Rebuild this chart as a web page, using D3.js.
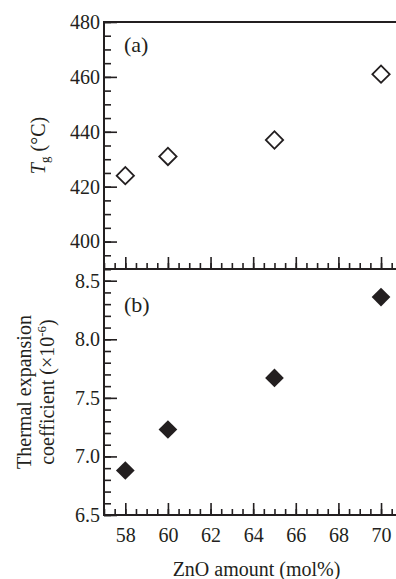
<!DOCTYPE html>
<html>
<head>
<meta charset="utf-8">
<script src="https://cdn.jsdelivr.net/npm/d3@7"></script>
<style>
  html, body { margin: 0; padding: 0; background: #fff; }
  svg { display: block; }
  text { font-family: "Liberation Serif", "Times New Roman", serif; fill: #231f20; }
</style>
</head>
<body>
<svg id="chart" width="396" height="579"></svg>
<script>
// ZnO content of the glasses (mol%)
const znoAmount = [58, 60, 65, 70];
// (a) glass transition temperature Tg (°C)
const tgValues = [424, 431, 437, 461];
// (b) thermal expansion coefficient (×10^-6)
const cteValues = [6.88, 7.23, 7.67, 8.36];

const xTicks = [58, 60, 62, 64, 66, 68, 70];
const tgTicks = [400, 420, 440, 460, 480];
const cteTicks = [6.5, 7.0, 7.5, 8.0, 8.5];

const W = 396, H = 579;
const ink = "#231f20";
const left = 104, right = W;
const topA = 22, mid = 269, bottomB = 515;

const svg = d3.select("#chart");

const x = d3.scaleLinear().domain([57, 71]).range([left, left + 14 * 21.31]);
const yA = d3.scaleLinear().domain([390, 480]).range([mid, topA]);
const yB = d3.scaleLinear().domain([6.5, 8.6]).range([bottomB, mid]);

function styleAxis(g) {
  g.selectAll(".domain").remove();
  g.selectAll("line").attr("stroke", ink).attr("stroke-width", 1.6);
  g.selectAll("text").attr("font-size", 20).attr("fill", ink)
    .attr("font-family", '"Liberation Serif", "Times New Roman", serif');
}

function range(a, b, step) {
  const out = [];
  for (let v = a; v <= b + 1e-9; v += step) out.push(+v.toFixed(4));
  return out;
}

// Bottom axis of a panel: ticks point up into the plot
function xAxisAt(yPos, withLabels) {
  svg.append("g").attr("transform", `translate(0,${yPos})`)
    .call(d3.axisBottom(x).tickValues(range(57, 71, 0.5)).tickSizeInner(-6).tickSizeOuter(0).tickFormat(""))
    .call(styleAxis);
  const major = svg.append("g").attr("transform", `translate(0,${yPos})`)
    .call(d3.axisBottom(x).tickValues(xTicks).tickSizeInner(-12).tickSizeOuter(0).tickPadding(13)
      .tickFormat(withLabels ? d3.format("d") : ""))
    .call(styleAxis);
  major.selectAll("text").attr("dy", "0.71em");
}

// Left axis of a panel: ticks point right into the plot
function yAxis(scale, minorVals, majorVals, fmt) {
  svg.append("g").attr("transform", `translate(${left},0)`)
    .call(d3.axisLeft(scale).tickValues(minorVals).tickSizeInner(-7).tickSizeOuter(0).tickFormat(""))
    .call(styleAxis);
  svg.append("g").attr("transform", `translate(${left},0)`)
    .call(d3.axisLeft(scale).tickValues(majorVals).tickSizeInner(-13).tickSizeOuter(0).tickPadding(4).tickFormat(fmt))
    .call(styleAxis);
}

yAxis(yA, range(390, 480, 5), tgTicks, d3.format("d"));
yAxis(yB, range(6.5, 8.6, 0.1), cteTicks, d3.format(".1f"));
xAxisAt(mid, false);
xAxisAt(bottomB, true);

// Frame lines: top, left, shared middle and bottom
const frame = svg.append("g").attr("stroke", ink).attr("stroke-width", 2).attr("fill", "none");
frame.append("line").attr("x1", left).attr("x2", right).attr("y1", topA).attr("y2", topA);
frame.append("line").attr("x1", left).attr("x2", left).attr("y1", topA - 1).attr("y2", bottomB + 1);
frame.append("line").attr("x1", left).attr("x2", right).attr("y1", mid).attr("y2", mid);
frame.append("line").attr("x1", left).attr("x2", right).attr("y1", bottomB).attr("y2", bottomB);

// Diamond markers (rotated squares)
const diamond = d3.symbol().type(d3.symbolSquare).size(150);

svg.append("g").selectAll("path").data(znoAmount.map((z, i) => [z, tgValues[i]]))
  .join("path")
  .attr("d", diamond)
  .attr("transform", d => `translate(${x(d[0])},${yA(d[1])}) rotate(45)`)
  .attr("fill", "#fff").attr("stroke", ink).attr("stroke-width", 1.8);

svg.append("g").selectAll("path").data(znoAmount.map((z, i) => [z, cteValues[i]]))
  .join("path")
  .attr("d", d3.symbol().type(d3.symbolSquare).size(175))
  .attr("transform", d => `translate(${x(d[0])},${yB(d[1])}) rotate(45)`)
  .attr("fill", ink).attr("stroke", "none");

// Panel tags
svg.append("text").attr("x", 124).attr("y", 52).attr("font-size", 22).text("(a)");
svg.append("text").attr("x", 124).attr("y", 312).attr("font-size", 22).text("(b)");

// Axis titles
const tgLabel = svg.append("text")
  .attr("transform", `translate(45,${(topA + mid) / 2}) rotate(-90)`)
  .attr("text-anchor", "middle").attr("font-size", 20);
tgLabel.append("tspan").attr("font-style", "italic").text("T");
tgLabel.append("tspan").attr("font-size", 13).attr("dy", 4).text("g");
tgLabel.append("tspan").attr("dy", -4).text(" (°C)");

const cteMid = (mid + bottomB) / 2;
svg.append("text")
  .attr("transform", `translate(31,${cteMid}) rotate(-90)`)
  .attr("text-anchor", "middle").attr("font-size", 20)
  .text("Thermal expansion");
const cteLabel = svg.append("text")
  .attr("transform", `translate(54,${cteMid}) rotate(-90)`)
  .attr("text-anchor", "middle").attr("font-size", 20);
cteLabel.append("tspan").text("coefficient (×10");
cteLabel.append("tspan").attr("font-size", 13).attr("dy", -8).text("-6");
cteLabel.append("tspan").attr("dy", 8).text(")");

svg.append("text")
  .attr("x", (170 + 343) / 2).attr("y", 576)
  .attr("text-anchor", "middle").attr("font-size", 20)
  .text("ZnO amount (mol%)");
</script>
</body>
</html>
